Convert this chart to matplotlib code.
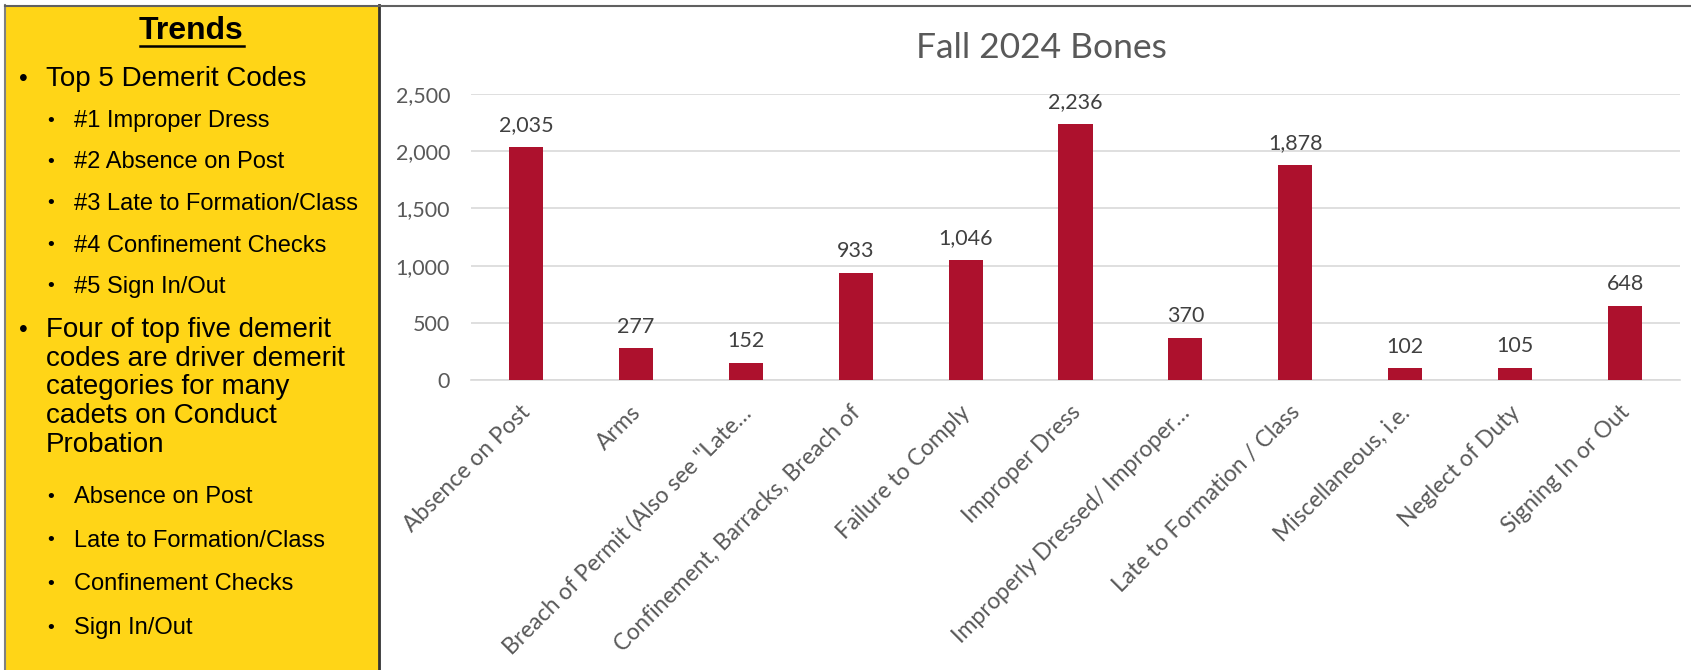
import matplotlib
matplotlib.use("Agg")
import matplotlib.pyplot as plt
from matplotlib.patches import Rectangle
from matplotlib.transforms import ScaledTranslation
from matplotlib.ticker import StrMethodFormatter

# data
categories = ["Absence on Post", "Arms", "Breach of Permit (Also see \"Late\u2026",
              "Confinement, Barracks, Breach of", "Failure to Comply", "Improper Dress",
              "Improperly Dressed/ Improper\u2026", "Late to Formation / Class",
              "Miscellaneous, i.e.", "Neglect of Duty", "Signing In or Out"]
counts = [2035, 277, 152, 933, 1046, 2236, 370, 1878, 102, 105, 648]
yticks = [0, 500, 1000, 1500, 2000, 2500]

top5 = ["#1 Improper Dress", "#2 Absence on Post", "#3 Late to Formation/Class",
        "#4 Confinement Checks", "#5 Sign In/Out"]
note_lines = ["Four of top five demerit", "codes are driver demerit",
              "categories for many", "cadets on Conduct", "Probation"]
drivers = ["Absence on Post", "Late to Formation/Class", "Confinement Checks", "Sign In/Out"]

W, H = 1691, 670
fig = plt.figure(figsize=(W / 100, H / 100), dpi=100)


def fx(x):
    return x / W


def fy(y):
    return 1 - y / H


# left yellow panel
fig.patches.append(Rectangle((fx(5), 0), fx(374), fy(5), transform=fig.transFigure,
                             facecolor="#FFD517", edgecolor="none", zorder=0))
fig.add_artist(plt.Line2D([fx(5), fx(5)], [0, fy(5)], color="#808080", lw=1.5))
fig.add_artist(plt.Line2D([fx(379), fx(379)], [0, fy(5)], color="#333333", lw=2))
fig.add_artist(plt.Line2D([fx(5), 1], [fy(5.5), fy(5.5)], color="#606060", lw=1.5))

tfont = "Liberation Sans"
fig.text(fx(191), fy(31), "Trends", fontsize=23, fontweight="bold", family=tfont,
         ha="center", va="center")
fig.add_artist(plt.Line2D([fx(140), fx(244)], [fy(46), fy(46)], color="black", lw=1.8))

fig.text(fx(19), fy(79), "\u2022", fontsize=18, family=tfont, va="center")
fig.text(fx(46), fy(79), "Top 5 Demerit Codes", fontsize=20, family=tfont, va="center")
for i, s in enumerate(top5):
    y = 121 + i * 41.5
    fig.text(fx(47), fy(y), "\u2022", fontsize=14, family=tfont, va="center")
    fig.text(fx(74), fy(y), s, fontsize=17, family=tfont, va="center")

fig.text(fx(19), fy(330), "\u2022", fontsize=18, family=tfont, va="center")
for i, s in enumerate(note_lines):
    fig.text(fx(46), fy(330 + i * 28.7), s, fontsize=20, family=tfont, va="center")
for i, s in enumerate(drivers):
    y = 497 + i * 43.7
    fig.text(fx(47), fy(y), "\u2022", fontsize=14, family=tfont, va="center")
    fig.text(fx(74), fy(y), s, fontsize=17, family=tfont, va="center")

# chart
ax = fig.add_axes([fx(471), fy(380), fx(1680 - 471), (380 - 94) / H])
x = list(range(len(categories)))
bars = ax.bar(x, counts, width=0.31, color="#AD112D", zorder=3)
ax.set_xlim(-0.5, len(categories) - 0.5)
ax.set_ylim(0, 2500)
ax.set_yticks(yticks)
ax.yaxis.set_major_formatter(StrMethodFormatter("{x:,.0f}"))
ax.grid(axis="y", color="#D9D9D9", lw=1.2, zorder=0)
for s in ["top", "right", "left"]:
    ax.spines[s].set_visible(False)
ax.spines["bottom"].set_color("#D9D9D9")
ax.spines["bottom"].set_linewidth(1.2)
ax.tick_params(axis="y", length=0, pad=15, labelsize=15.5, labelcolor="#595959")
ax.tick_params(axis="x", length=0, pad=2)
for lbl in ax.get_yticklabels():
    lbl.set_family("Lato")

ax.set_xticks(x, categories, rotation=45, ha="right", va="top", rotation_mode="anchor",
              fontsize=16.5, color="#595959", family="Lato")
off = ScaledTranslation(-0.06, -0.19, fig.dpi_scale_trans)
for lbl in ax.get_xticklabels():
    lbl.set_transform(lbl.get_transform() + off)

ax.bar_label(bars, labels=[f"{v:,}" for v in counts], padding=8.5, fontsize=15.5,
             color="#404040", family="Lato")

fig.text(fx(1041), fy(48), "Fall 2024 Bones", fontsize=25.5, color="#595959",
         family="Lato", ha="center", va="center")

fig.savefig("out.png", dpi=100)
